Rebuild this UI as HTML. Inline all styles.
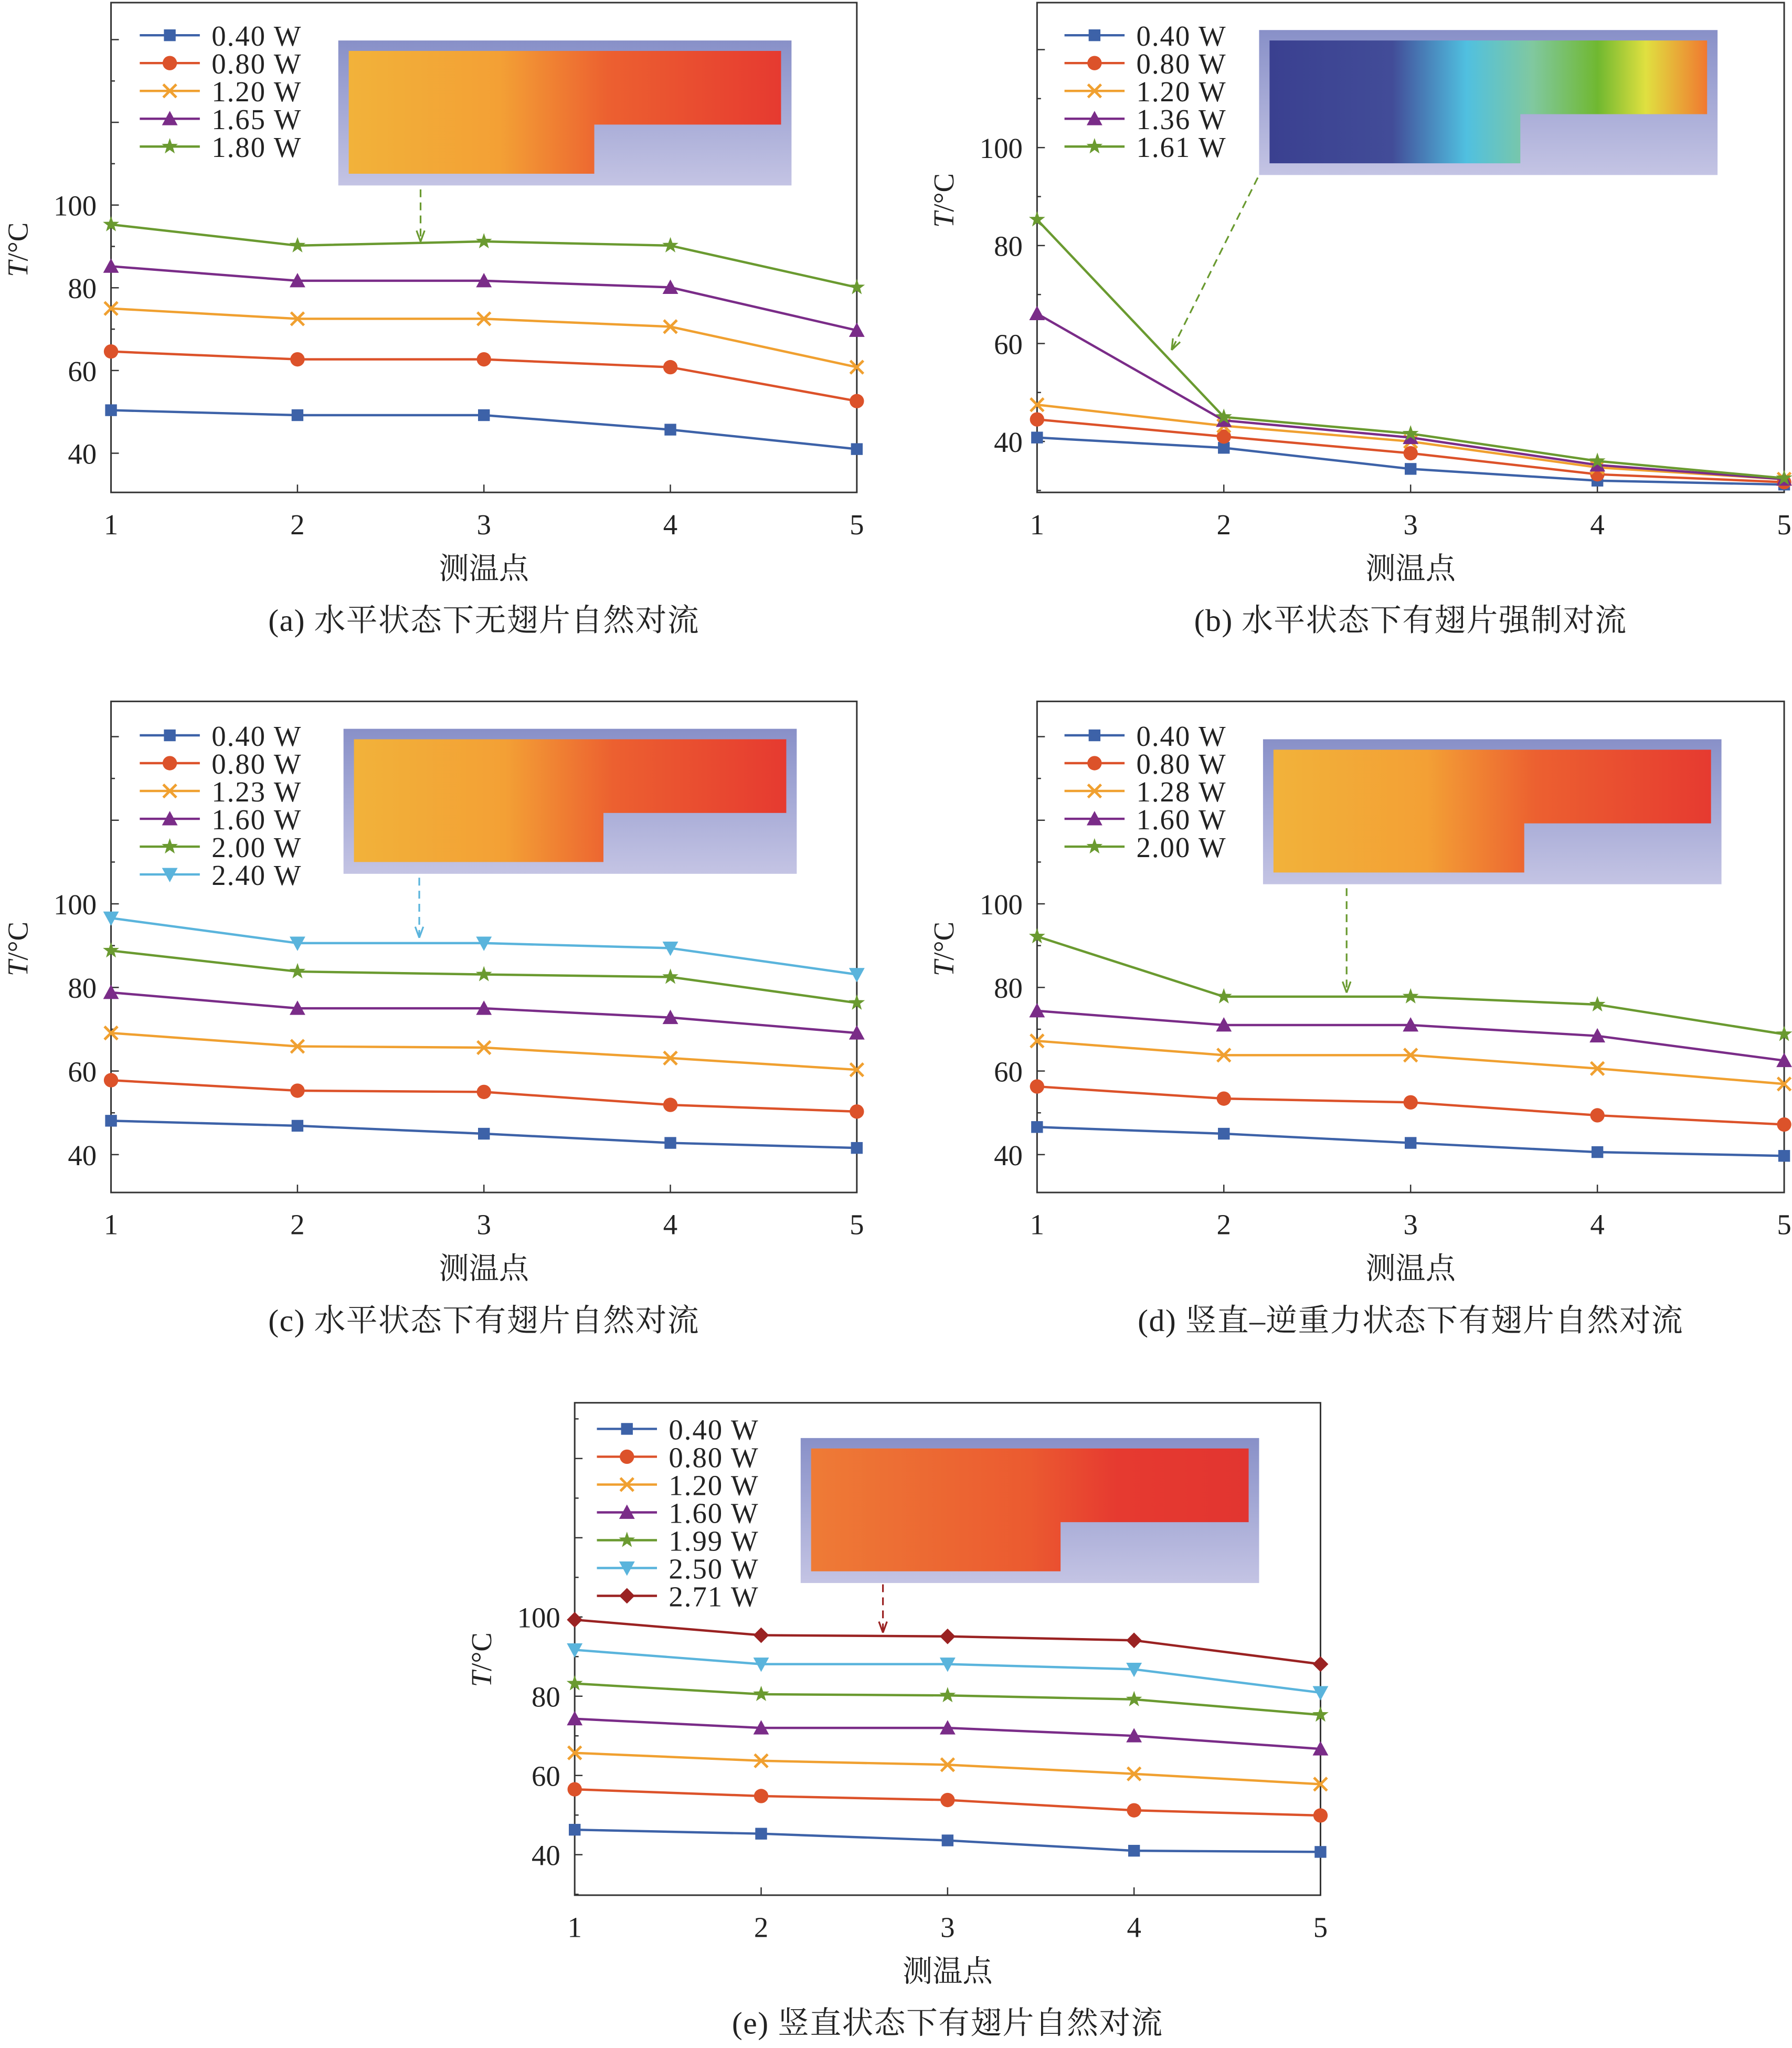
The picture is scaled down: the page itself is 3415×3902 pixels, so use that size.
<!DOCTYPE html>
<html><head><meta charset="utf-8">
<style>
html,body{margin:0;padding:0;background:#fff;}
svg{display:block;}
text{font-family:"Liberation Serif","Noto Serif CJK SC",serif;fill:#222;}
</style></head>
<body>
<svg id="fig" width="3415" height="3902" viewBox="0 0 1372 1568" preserveAspectRatio="none" xmlns="http://www.w3.org/2000/svg">
<defs>
<linearGradient id="lav" x1="0" y1="0" x2="0" y2="1"><stop offset="0" stop-color="#8890c8"/><stop offset="1" stop-color="#c4c4e4"/></linearGradient>
<linearGradient id="warm" x1="0" y1="0" x2="1" y2="0"><stop offset="0" stop-color="#f2b23a"/><stop offset="0.35" stop-color="#f3a035"/><stop offset="0.6" stop-color="#ec6030"/><stop offset="1" stop-color="#e63a30"/></linearGradient>
<linearGradient id="warm2" x1="0" y1="0" x2="1" y2="0"><stop offset="0" stop-color="#ee7b36"/><stop offset="0.5" stop-color="#eb5a30"/><stop offset="0.7" stop-color="#e63a30"/><stop offset="1" stop-color="#e23530"/></linearGradient>
<linearGradient id="cool" x1="0" y1="0" x2="1" y2="0"><stop offset="0" stop-color="#3a4090"/><stop offset="0.28" stop-color="#424c98"/><stop offset="0.45" stop-color="#50c0e0"/><stop offset="0.6" stop-color="#80c8a0"/><stop offset="0.75" stop-color="#70b830"/><stop offset="0.86" stop-color="#e0e040"/><stop offset="1" stop-color="#f07830"/></linearGradient>
</defs>
</svg>
<script>
const cats=[1,2,3,4,5];
const colors={b:"#3d62a8",r:"#dc522a",o:"#f0a030",p:"#7a2c88",g:"#6a9a30",c:"#5ab4dc",d:"#9a2222"};
// panel a
const aLabels=["0.40 W","0.80 W","1.20 W","1.65 W","1.80 W"];
const aS1=[50.4,49.2,49.2,45.7,41.0];
const aS2=[64.6,62.7,62.7,60.8,52.6];
const aS3=[75.0,72.5,72.5,70.6,60.8];
const aS4=[85.2,81.7,81.7,80.1,69.7];
const aS5=[95.3,90.2,91.2,90.2,80.1];
// panel b
const bLabels=["0.40 W","0.80 W","1.20 W","1.36 W","1.61 W"];
const bS1=[40.8,38.7,34.4,32.0,31.2];
const bS2=[44.5,41.0,37.6,33.3,31.7];
const bS3=[47.5,43.2,40.0,34.7,32.3];
const bS4=[66.1,44.3,40.8,35.2,32.3];
const bS5=[85.3,45.0,41.6,36.0,32.5];
// panel c
const cLabels=["0.40 W","0.80 W","1.23 W","1.60 W","2.00 W","2.40 W"];
const cS1=[48.1,46.9,45.0,42.8,41.6];
const cS2=[57.8,55.3,55.0,51.9,50.3];
const cS3=[69.1,65.9,65.6,63.1,60.3];
const cS4=[78.8,75.0,75.0,72.8,69.1];
const cS5=[88.8,83.8,83.1,82.5,76.3];
const cS6=[96.6,90.6,90.6,89.4,83.1];
// panel d
const dLabels=["0.40 W","0.80 W","1.28 W","1.60 W","2.00 W"];
const dS1=[46.6,45.0,42.8,40.6,39.7];
const dS2=[56.3,53.4,52.5,49.4,47.2];
const dS3=[67.2,63.8,63.8,60.6,56.9];
const dS4=[74.4,71.0,71.0,68.4,62.5];
const dS5=[92.2,77.8,77.8,75.9,68.8];
// panel e
const eLabels=["0.40 W","0.80 W","1.20 W","1.60 W","1.99 W","2.50 W","2.71 W"];
const eS1=[46.3,45.3,43.6,41.0,40.7];
const eS2=[56.5,54.8,53.8,51.2,49.9];
const eS3=[65.7,63.7,62.7,60.4,57.8];
const eS4=[74.3,72.0,72.0,70.0,66.7];
const eS5=[83.2,80.5,80.2,79.2,75.3];
const eS6=[91.7,88.1,88.1,86.8,80.9];
const eS7=[99.3,95.4,95.1,94.1,88.1];
const yTicks=[40,60,80,100];
const xTicks=[1,2,3,4,5];

const NS="http://www.w3.org/2000/svg";
const svg=document.getElementById('fig');
function mk(tag,attrs,parent){const e=document.createElementNS(NS,tag);for(const k in attrs)e.setAttribute(k,attrs[k]);(parent||svg).appendChild(e);return e;}

function marker(g,type,x,y,col){
  let m;
  if(type==='sq') m=mk('rect',{x:x-4.5,y:y-4.5,width:9,height:9,fill:col},g);
  else if(type==='ci') m=mk('circle',{cx:x,cy:y,r:5.5,fill:col},g);
  else if(type==='x') m=mk('path',{d:`M${x-5} ${y-5}L${x+5} ${y+5}M${x-5} ${y+5}L${x+5} ${y-5}`,stroke:col,'stroke-width':2,fill:'none'},g);
  else if(type==='tu') m=mk('path',{d:`M${x} ${y-6}L${x+6} ${y+5}L${x-6} ${y+5}Z`,fill:col},g);
  else if(type==='td') m=mk('path',{d:`M${x} ${y+6}L${x+6} ${y-5}L${x-6} ${y-5}Z`,fill:col},g);
  else if(type==='st'){let p='';for(let i=0;i<10;i++){const r=i%2?2.6:6.5;const a=-Math.PI/2+i*Math.PI/5;p+=(i?'L':'M')+(x+r*Math.cos(a)).toFixed(1)+' '+(y+r*Math.sin(a)).toFixed(1);}m=mk('path',{d:p+'Z',fill:col},g);}
  else if(type==='di') m=mk('path',{d:`M${x} ${y-6}L${x+6} ${y}L${x} ${y+6}L${x-6} ${y}Z`,fill:col},g);
  
  
}
const styles=[['sq','b'],['ci','r'],['x','o'],['tu','p'],['st','g'],['td','c'],['di','d']];

function panel(o){
  const g=mk('g',{});
  
  
  const {x0,x1,yTop,yBot,v40,v100}=o;
  const ppu=(v40-v100)/60;
  const ys=v=>v40-(v-40)*ppu;
  const xs=c=>x0+(c-1)*(x1-x0)/4;
  const fr=mk('rect',{x:x0,y:yTop,width:x1-x0,height:yBot-yTop,fill:'none',stroke:'#333','stroke-width':1.2},g);
  
  
  for(let v=30;v<=150;v+=10){const y=ys(v);if(y<yTop||y>yBot)continue;const len=v%20===0?6:3;mk('line',{x1:x0,y1:y,x2:x0+len,y2:y,stroke:'#333','stroke-width':1},g);}
  yTicks.forEach(v=>{const t=mk('text',{x:x0-11,y:ys(v)+8,'font-size':22,'text-anchor':'end'},g);t.textContent=v;
    });
  xTicks.forEach(c=>{mk('line',{x1:xs(c),y1:yBot,x2:xs(c),y2:yBot-6,stroke:'#333','stroke-width':1},g);
    const t=mk('text',{x:xs(c),y:yBot+32,'font-size':22,'text-anchor':'middle'},g);t.textContent=c;
    });
  const yl=mk('text',{x:0,y:0,'font-size':22,'text-anchor':'middle',transform:`translate(${x0-64},${v100+(v40-v100)*0.18}) rotate(-90)`},g);
  yl.innerHTML='<tspan font-style="italic">T</tspan>/°C';
  
  const xl=mk('text',{x:(x0+x1)/2,y:yBot+66,'font-size':23,'text-anchor':'middle'},g);xl.textContent='测温点';
  
  const cap=mk('text',{x:(x0+x1)/2,y:yBot+106,'font-size':24,'letter-spacing':'0.6','text-anchor':'middle'},g);cap.textContent=o.caption;
  
  const ins=o.inset;
  const ig=mk('g',{},g);
  
  mk('rect',{x:ins[0],y:ins[1],width:ins[2]-ins[0],height:ins[3]-ins[1],fill:'url(#lav)'},ig);
  const ix=ins[0]+8,iy=ins[1]+8,ir=ins[2]-8,ib=ins[3]-9,mid=iy+(ib-iy)*0.6,split=ins[4];
  mk('path',{d:`M${ix} ${iy}H${ir}V${mid}H${split}V${ib}H${ix}Z`,fill:`url(#${o.grad})`},ig);
  const ar=o.arrow;
  const al=mk('line',{x1:ar[0],y1:ar[1],x2:ar[2],y2:ar[3],stroke:ar[4],'stroke-width':1.3,'stroke-dasharray':'6 4'},g);
  
  const ang=Math.atan2(ar[3]-ar[1],ar[2]-ar[0]);
  const hx=ar[2],hy=ar[3];
  mk('path',{d:`M${hx} ${hy}L${hx-9*Math.cos(ang-0.35)} ${hy-9*Math.sin(ang-0.35)}M${hx} ${hy}L${hx-9*Math.cos(ang+0.35)} ${hy-9*Math.sin(ang+0.35)}`,stroke:ar[4],'stroke-width':1.3,fill:'none'},g);
  o.series.forEach((s,i)=>{
    const [mt,ck]=styles[i];const col=colors[ck];
    const sg=mk('g',{},g);
    
    
    mk('polyline',{points:s.map((v,j)=>xs(cats[j])+','+ys(v)).join(' '),fill:'none',stroke:col,'stroke-width':1.8},sg);
    s.forEach((v,j)=>marker(sg,mt,xs(cats[j]),ys(v),col));
    const lx=o.leg[0],ly=o.leg[1]+i*21.3;
    const lg=mk('g',{},g);
    
    
    mk('line',{x1:lx,y1:ly,x2:lx+46,y2:ly,stroke:col,'stroke-width':1.8},lg);
    marker(lg,mt,lx+23,ly,col);
    const t=mk('text',{x:lx+55,y:ly+8,'font-size':22,'letter-spacing':'0.8'},lg);t.textContent=o.labels[i];
  });
}
panel({id:'a',x0:85,x1:656,yTop:2,yBot:377,v40:347,v100:157,caption:'(a) 水平状态下无翅片自然对流',labels:aLabels,series:[aS1,aS2,aS3,aS4,aS5],leg:[107,27],inset:[259,31,606,142,455],grad:'warm',arrow:[322,145,322,185,'#6a9a30']});
panel({id:'b',x0:794,x1:1366,yTop:2,yBot:377,v40:338,v100:113,caption:'(b) 水平状态下有翅片强制对流',labels:bLabels,series:[bS1,bS2,bS3,bS4,bS5],leg:[815,27],inset:[964,23,1315,134,1164],grad:'cool',arrow:[963,136,897,268,'#6a9a30']});
panel({id:'c',x0:85,x1:656,yTop:537,yBot:913,v40:884,v100:692,caption:'(c) 水平状态下有翅片自然对流',labels:cLabels,series:[cS1,cS2,cS3,cS4,cS5,cS6],leg:[107,563],inset:[263,558,610,669,462],grad:'warm',arrow:[321,672,321,718,'#5ab4dc']});
panel({id:'d',x0:794,x1:1366,yTop:537,yBot:913,v40:884,v100:692,caption:'(d) 竖直–逆重力状态下有翅片自然对流',labels:dLabels,series:[dS1,dS2,dS3,dS4,dS5],leg:[815,563],inset:[967,566,1318,677,1167],grad:'warm',arrow:[1031,680,1031,760,'#6a9a30']});
panel({id:'e',x0:440,x1:1011,yTop:1074,yBot:1451,v40:1420,v100:1238,caption:'(e) 竖直状态下有翅片自然对流',labels:eLabels,series:[eS1,eS2,eS3,eS4,eS5,eS6,eS7],leg:[457,1094],inset:[613,1101,964,1212,812],grad:'warm2',arrow:[676,1213,676,1250,'#9a2222']});
</script>
</body></html>
